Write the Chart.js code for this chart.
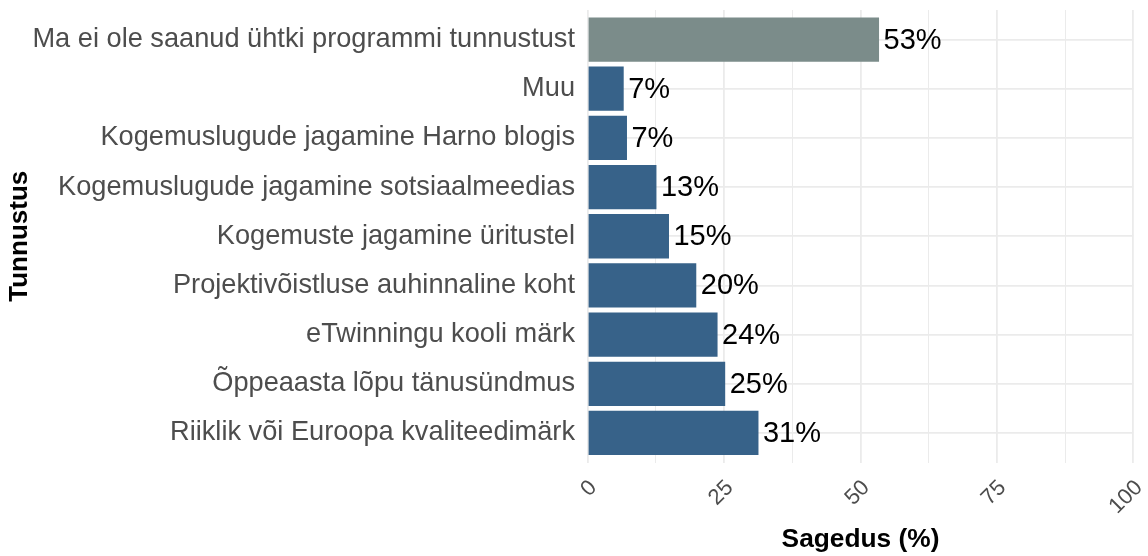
<!DOCTYPE html>
<html>
<head>
<meta charset="utf-8">
<script src="https://cdn.jsdelivr.net/npm/chart.js@4/dist/chart.umd.min.js"></script>
<style>
	html, body { margin: 0; padding: 0; background: #fff; }
	canvas { display: block; }
</style>
</head>
<body>
<canvas id="tunnustus-chart" width="1148" height="556"></canvas>
<script>
	'use strict';

	// Categories, top to bottom
	const categories = [
		'Ma ei ole saanud ühtki programmi tunnustust',
		'Muu',
		'Kogemuslugude jagamine Harno blogis',
		'Kogemuslugude jagamine sotsiaalmeedias',
		'Kogemuste jagamine üritustel',
		'Projektivõistluse auhinnaline koht',
		'eTwinningu kooli märk',
		'Õppeaasta lõpu tänusündmus',
		'Riiklik või Euroopa kvaliteedimärk'
	];

	// Sagedus (%)
	const values = [53.4, 6.6, 7.2, 12.6, 14.9, 19.9, 23.8, 25.2, 31.3];

	const xTicks = [0, 25, 50, 75, 100];

	const fontFamily = '"Liberation Sans", Arial, Helvetica, sans-serif';
	const gridColor = '#ebebeb';

	// Percent labels right of each bar
	const valueLabels = {
		id: 'valueLabels',
		afterDatasetsDraw: function( chart ){
			const ctx = chart.ctx;
			const meta = chart.getDatasetMeta(0);

			ctx.save();
			ctx.font = '29px ' + fontFamily;
			ctx.fillStyle = '#000000';
			ctx.textAlign = 'left';
			ctx.textBaseline = 'middle';
			meta.data.forEach( function( bar, i ){
				ctx.fillText(Math.round(values[i]) + '%', bar.x + 4.5, bar.y + 1);
			});
			ctx.restore();
		}
	};

	new Chart(document.getElementById('tunnustus-chart'), {
		type: 'bar',
		data: {
			datasets: [
				{
					label: 'Sagedus (%)',
					data: values.map( function( v, i ){ return { x: v, y: i }; } ),
					backgroundColor: values.map( function( v, i ){ return i === 0 ? '#7b8c8a' : '#376289'; } ),
					borderWidth: 0,
					categoryPercentage: 1,
					barPercentage: 0.9
				}
			]
		},
		options: {
			indexAxis: 'y',
			responsive: false,
			animation: false,
			events: [],
			layout: {
				padding: { left: 0, right: 14.7, top: 10, bottom: 0 }
			},
			scales: {
				x: {
					type: 'linear',
					min: 0,
					max: 100,
					offset: false,
					afterFit: function( scale ){
						scale.height = 93.5;
						scale.paddingLeft = 0;
						scale.paddingRight = 0;
					},
					border: { display: false },
					grid: {
						color: gridColor,
						drawTicks: false,
						offset: false,
						lineWidth: function( c ){ return xTicks.includes(c.tick.value) ? 1.8 : 1; }
					},
					ticks: {
						stepSize: 12.5,
						autoSkip: false,
						minRotation: 45,
						maxRotation: 45,
						padding: 12.5,
						labelOffset: 5.7,
						color: '#4d4d4d',
						font: { family: fontFamily, size: 22 },
						callback: function( value ){ return xTicks.includes(value) ? String(value) : ''; }
					},
					title: {
						display: true,
						text: 'Sagedus (%)',
						color: '#000000',
						font: { family: fontFamily, size: 26.3, weight: 'bold' },
						padding: { top: 0, bottom: 0.5 }
					}
				},
				y: {
					type: 'linear',
					reverse: true,
					min: -0.6,
					max: categories.length - 0.4,
					offset: false,
					afterFit: function( scale ){
						scale.width = 587.7;
						scale.paddingTop = 0;
						scale.paddingBottom = 0;
					},
					afterBuildTicks: function( scale ){
						scale.ticks = scale.ticks.filter( function( t ){ return Number.isInteger(t.value); } );
					},
					border: { display: false },
					grid: {
						color: gridColor,
						lineWidth: 1.8,
						drawTicks: false,
						offset: false
					},
					ticks: {
						stepSize: 1,
						includeBounds: false,
						autoSkip: false,
						padding: 12.7,
						color: '#4d4d4d',
						font: { family: fontFamily, size: 27.2 },
						callback: function( value ){ return categories[value] !== undefined ? categories[value] : ''; }
					},
					title: {
						display: true,
						text: 'Tunnustus',
						color: '#000000',
						font: { family: fontFamily, size: 26, weight: 'bold' }
					}
				}
			},
			plugins: {
				legend: { display: false },
				tooltip: { enabled: false }
			}
		},
		plugins: [valueLabels]
	});
</script>
</body>
</html>
